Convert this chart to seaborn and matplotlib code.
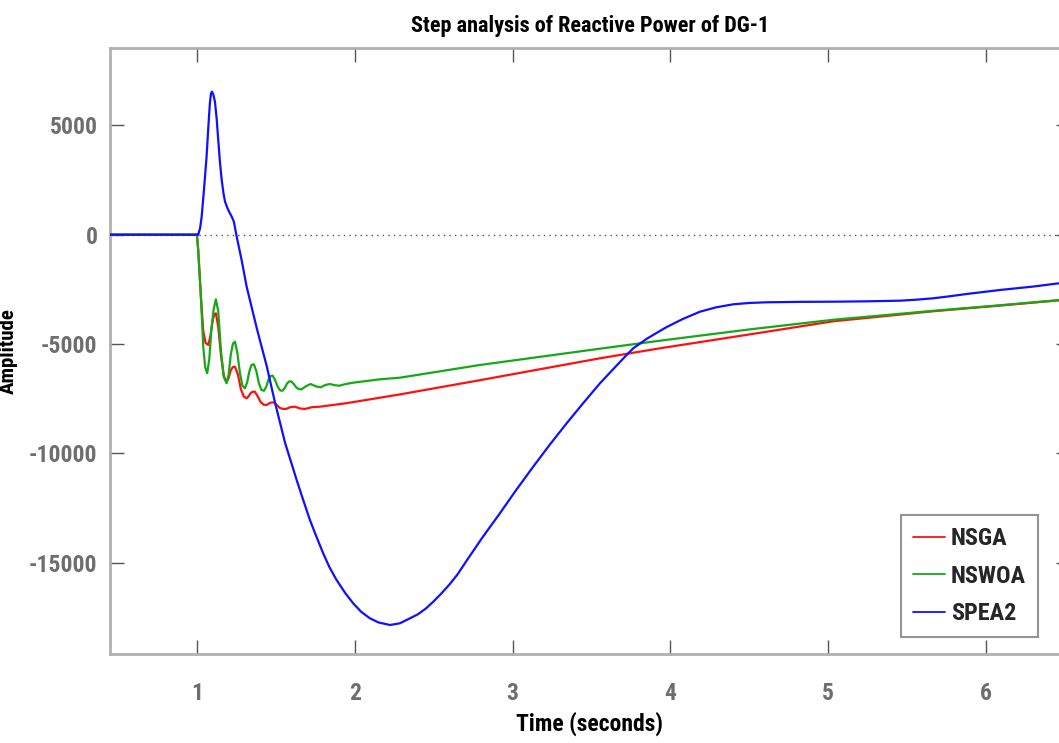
import numpy as np
import pandas as pd
import matplotlib
matplotlib.use("Agg")
import matplotlib.pyplot as plt
from matplotlib import font_manager
import seaborn as sns

# ---- step response samples (time in seconds, amplitude) ----
nsga_t = [0.449, 1.000, 1.008, 1.025, 1.040, 1.055, 1.072, 1.086, 1.100, 1.110, 1.120,
          1.135, 1.152, 1.170, 1.188, 1.201, 1.214, 1.228, 1.241, 1.260, 1.278, 1.297,
          1.315, 1.328, 1.341, 1.354, 1.367, 1.386, 1.404, 1.422, 1.441, 1.453, 1.465,
          1.477, 1.489, 1.508, 1.526, 1.545, 1.564, 1.593, 1.621, 1.652, 1.684, 1.731,
          1.779, 1.864, 1.948, 2.160, 2.286, 2.793, 3.554, 3.934, 4.500, 5.030, 5.664,
          6.089, 6.533]
nsga_v = [0, 0, -700, -2830, -4400, -4950, -5041, -4600, -3900, -3650, -3593,
          -4200, -5500, -6450, -6732, -6550, -6200, -6050, -6033, -6400, -7050, -7400,
          -7477, -7380, -7230, -7180, -7176, -7400, -7650, -7770, -7783, -7730, -7680,
          -7665, -7669, -7800, -7920, -7960, -7966, -7880, -7861, -7940, -7966, -7880,
          -7861, -7780, -7700, -7450, -7300, -6650, -5649, -5192, -4560, -3960, -3500,
          -3240, -2955]

nswoa_t = [0.449, 1.000, 1.008, 1.025, 1.040, 1.052, 1.065, 1.078, 1.092, 1.106, 1.120,
           1.135, 1.152, 1.170, 1.188, 1.201, 1.214, 1.228, 1.241, 1.256, 1.272, 1.288,
           1.304, 1.318, 1.332, 1.346, 1.361, 1.377, 1.393, 1.409, 1.425, 1.439, 1.452,
           1.466, 1.480, 1.496, 1.512, 1.528, 1.543, 1.557, 1.571, 1.586, 1.600, 1.616,
           1.632, 1.648, 1.663, 1.692, 1.721, 1.753, 1.784, 1.814, 1.843, 1.873, 1.902,
           1.946, 1.990, 2.160, 2.286, 2.793, 3.554, 3.934, 4.500, 5.030, 5.664, 6.089,
           6.533]
nswoa_v = [0, 0, -700, -2830, -5120, -6050, -6335, -5700, -4300, -3400, -2952,
           -3500, -5300, -6500, -6790, -6400, -5500, -4980, -4890, -5400, -6300, -6900,
           -7020, -6750, -6250, -5950, -5923, -6250, -6800, -7100, -7130, -6950, -6650,
           -6460, -6444, -6650, -6950, -7120, -7130, -7000, -6800, -6700, -6718, -6850,
           -7000, -7060, -7066, -6920, -6824, -6930, -6974, -6870, -6824, -6880, -6901,
           -6820, -6764, -6609, -6536, -5955, -5210, -4845, -4330, -3890, -3480, -3225,
           -2945]

spea2_t = [0.449, 1.000, 1.008, 1.020, 1.030, 1.045, 1.061, 1.072, 1.082, 1.089, 1.095,
           1.104, 1.114, 1.125, 1.135, 1.146, 1.157, 1.168, 1.178, 1.194, 1.209, 1.222,
           1.234, 1.252, 1.283, 1.315, 1.380, 1.442, 1.494, 1.558, 1.632, 1.670, 1.716,
           1.760, 1.800, 1.840, 1.885, 1.940, 1.990, 2.040, 2.096, 2.150, 2.223, 2.286,
           2.350, 2.400, 2.450, 2.498, 2.550, 2.600, 2.650, 2.709, 2.810, 2.920, 3.020,
           3.131, 3.240, 3.343, 3.450, 3.554, 3.640, 3.723, 3.765, 3.850, 3.934, 3.977,
           4.080, 4.188, 4.290, 4.399, 4.500, 4.610, 4.820, 5.032, 5.250, 5.455, 5.560,
           5.666, 5.770, 5.878, 6.089, 6.300, 6.463, 6.533]
spea2_v = [0, 0, 0, 300, 823, 2100, 3565, 4900, 6005, 6450, 6536,
           6400, 6079, 5300, 4328, 3300, 2500, 1900, 1508, 1200, 978, 800,
           594, -90, -1156, -2377, -4300, -6000, -7650, -9500, -11211, -12050, -13040,
           -13850, -14561, -15200, -15782, -16380, -16846, -17230, -17532, -17720, -17838, -17761,
           -17532, -17350, -17090, -16773, -16390, -15990, -15540, -14900, -13830, -12733, -11700,
           -10603, -9560, -8620, -7680, -6792, -6130, -5498, -5192, -4760, -4400, -4220,
           -3850, -3519, -3320, -3181, -3120, -3090, -3070, -3062, -3045, -3016, -2970,
           -2907, -2815, -2710, -2527, -2370, -2221, -2160]

series_names = ["NSGA", "NSWOA", "SPEA2"]
series_colors = ["#ff1010", "#16a816", "#1010ff"]

xticks = [1, 2, 3, 4, 5, 6]
yticks = [-15000, -10000, -5000, 0, 5000]
x_limits = (0.449, 6.533)
y_limits = (-19173, 8519)

# ---- long-form table for seaborn ----
frames = []
for name, t, v in zip(series_names, [nsga_t, nswoa_t, spea2_t], [nsga_v, nswoa_v, spea2_v]):
    frames.append(pd.DataFrame({"Time": t, "Amplitude": v, "Method": name}))
df = pd.concat(frames, ignore_index=True)

# ---- fonts: prefer a narrow sans face ----
sns.set_theme(style="white")
avail = {f.name for f in font_manager.fontManager.ttflist}
family = "Liberation Sans"
stretch = "normal"
for cand in ["Liberation Sans Narrow", "Arial Narrow", "Roboto Condensed",
             "Open Sans Condensed", "DejaVu Sans Condensed"]:
    if cand in avail:
        family = cand
        break
else:
    if any(f.name == "DejaVu Sans" and f.stretch == "condensed"
           for f in font_manager.fontManager.ttflist):
        family = "DejaVu Sans"
        stretch = "condensed"
plt.rcParams["font.family"] = [family, "DejaVu Sans"]
plt.rcParams["font.stretch"] = stretch

W, H = 1059, 743
fig = plt.figure(figsize=(W / 100, H / 100), dpi=100)
ax_left, ax_right = 110, 1070
ax_top, ax_bottom = 48.3, 654.2
ax_w = ax_right - ax_left
ax = fig.add_axes([ax_left / W, 1 - ax_bottom / H,
                   ax_w / W, (ax_bottom - ax_top) / H])

ax.axhline(0, color="#555555", lw=1.0, ls=(0, (1, 3)), zorder=1)

sns.lineplot(data=df, x="Time", y="Amplitude", hue="Method",
             palette=dict(zip(series_names, series_colors)),
             estimator=None, sort=False, linewidth=1.6, ax=ax, zorder=3)

ax.set_xlim(*x_limits)
ax.set_ylim(*y_limits)
ax.set_xticks(xticks)
ax.set_yticks(yticks)
ax.set_xticklabels([str(v) for v in xticks])
ax.set_yticklabels([str(v) for v in yticks])

ax.tick_params(axis="both", which="both", direction="in", length=10, width=1.0,
               color="#555555", labelcolor="#6e6e6e", labelsize=17,
               top=True, right=True, bottom=True, left=True)
ax.tick_params(axis="x", pad=20)
ax.tick_params(axis="y", pad=9)
for lab in ax.get_xticklabels() + ax.get_yticklabels():
    lab.set_fontweight("bold")

for sp in ax.spines.values():
    sp.set_visible(True)
    sp.set_color("#b0b0b0")
    sp.set_linewidth(2.0)

ax.set_title("Step analysis of Reactive Power of DG-1", fontsize=16,
             fontweight="bold", color="black", pad=12)
ax.set_xlabel("Time (seconds)", fontsize=17, fontweight="bold", color="black",
              labelpad=5)
ax.set_ylabel("Amplitude", fontsize=15, fontweight="bold", color="black")
ax.yaxis.set_label_coords((18 - ax_left) / ax_w, 0.5)

handles, labels = ax.get_legend_handles_labels()
leg = ax.legend(handles, labels, loc="upper left",
                bbox_to_anchor=(901 / W, 1 - 515 / H),
                bbox_transform=fig.transFigure, frameon=True, fancybox=False,
                fontsize=17.5, handlelength=1.3, handletextpad=0.25,
                labelspacing=0.6, borderpad=0.5, borderaxespad=0)
leg.get_frame().set_edgecolor("#7a7a7a")
leg.get_frame().set_linewidth(1.5)
for txt in leg.get_texts():
    txt.set_fontweight("bold")
for ln in leg.get_lines():
    ln.set_linewidth(1.3)

fig.savefig("out.png", dpi=100, facecolor="white")
